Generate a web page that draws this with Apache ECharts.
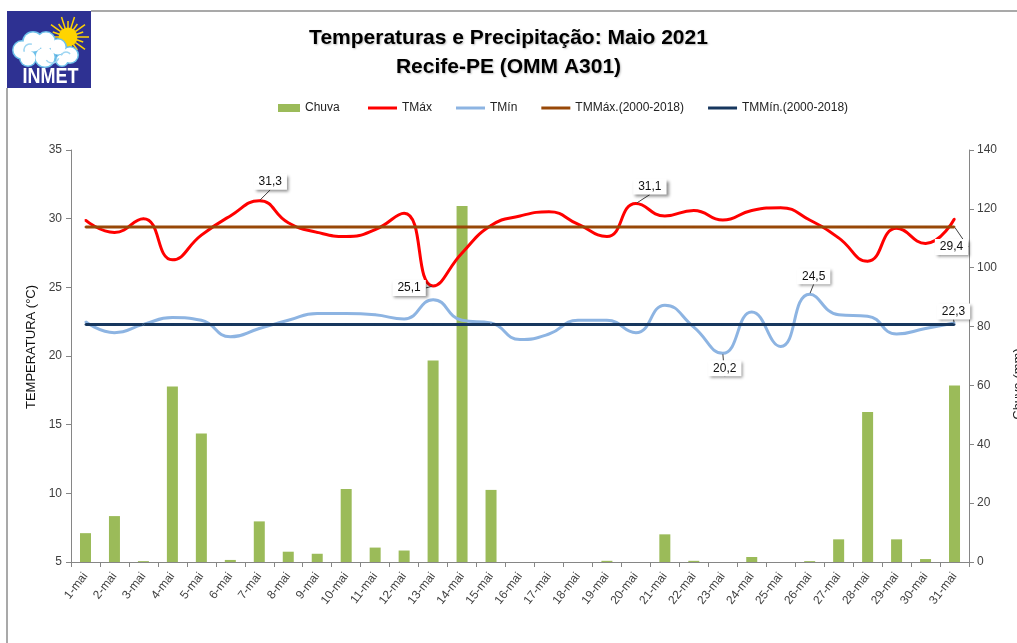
<!DOCTYPE html>
<html><head><meta charset="utf-8">
<script src="https://cdn.jsdelivr.net/npm/echarts@6/dist/echarts.min.js"></script>
<style>html,body{margin:0;padding:0;background:#fff}#c{width:1017px;height:643px}</style>
</head><body><div id="c"></div>
<script>
const days = ['1-mai','2-mai','3-mai','4-mai','5-mai','6-mai','7-mai','8-mai','9-mai','10-mai','11-mai','12-mai','13-mai','14-mai','15-mai','16-mai','17-mai','18-mai','19-mai','20-mai','21-mai','22-mai','23-mai','24-mai','25-mai','26-mai','27-mai','28-mai','29-mai','30-mai','31-mai'];
const chuva = [9.8,15.6,0.3,59.6,43.7,0.7,13.8,3.5,2.8,24.8,4.9,3.9,68.5,121.0,24.5,0,0,0,0.4,0,9.4,0.4,0,1.7,0,0.3,7.7,51.0,7.7,1.0,60.0];
const tmax = [29.9,29.0,30.0,27.0,28.8,30.2,31.3,29.7,29.0,28.7,29.2,30.4,25.1,27.5,29.5,30.2,30.5,29.6,28.7,31.1,30.2,30.6,29.9,30.6,30.8,29.9,28.6,26.9,29.3,28.2,30.0];
const tmin = [22.5,21.7,22.3,22.8,22.6,21.4,22.0,22.6,23.1,23.1,23.0,22.7,24.1,22.6,22.4,21.2,21.6,22.6,22.6,21.7,23.7,22.1,20.2,23.2,20.7,24.5,23.0,22.9,21.6,22.0,22.4];
const tmmax = [29.4,29.4,29.4,29.4,29.4,29.4,29.4,29.4,29.4,29.4,29.4,29.4,29.4,29.4,29.4,29.4,29.4,29.4,29.4,29.4,29.4,29.4,29.4,29.4,29.4,29.4,29.4,29.4,29.4,29.4,29.4];
const tmmin = [22.3,22.3,22.3,22.3,22.3,22.3,22.3,22.3,22.3,22.3,22.3,22.3,22.3,22.3,22.3,22.3,22.3,22.3,22.3,22.3,22.3,22.3,22.3,22.3,22.3,22.3,22.3,22.3,22.3,22.3,22.3];
const tempTicks = {min: 5, max: 35, interval: 5};
const rainTicks = {min: 0, max: 140, interval: 20};

const FONT = '"Liberation Sans", Arial, sans-serif';
const labelBox = {
  show: true, position: 'inside', color: '#111', fontSize: 12, fontFamily: FONT,
  backgroundColor: '#fff', padding: [2, 5],
  shadowColor: 'rgba(0,0,0,0.45)', shadowBlur: 3, shadowOffsetX: 2, shadowOffsetY: 2,
  formatter: p => String(p.value).replace('.', ',')
};
function makeData(values, offsets) {
  return values.map((v, i) => {
    if (offsets[i]) {
      return {
        value: v,
        label: Object.assign({}, labelBox, {offset: offsets[i]}),
        labelLine: {show: true, lineStyle: {color: '#404040', width: 1}}
      };
    }
    return v;
  });
}

const chart = echarts.init(document.getElementById('c'), null, {renderer: 'canvas'});

const SUN = {cx: 68, cy: 37};
const rays = [];
for (let k = 0; k < 20; k++) {
  const a = k * Math.PI / 10;
  const r2 = (k % 2 === 0) ? 21 : 16;
  rays.push({type: 'line', shape: {x1: SUN.cx + Math.cos(a) * 9, y1: SUN.cy + Math.sin(a) * 9, x2: SUN.cx + Math.cos(a) * r2, y2: SUN.cy + Math.sin(a) * r2},
    style: {stroke: '#ffd400', lineWidth: 1.5}});
}
const cloudCircles = [[22,50,10],[33,42,11],[46,41,10],[58,47,9],[70,55,9],[45,57,11],[28,58,9],[62,60,7]];
const cloudOutline = cloudCircles.map(c => ({type: 'circle', shape: {cx: c[0], cy: c[1], r: c[2]}, style: {fill: '#6ec1ea'}}));
const cloudFill = cloudCircles.map(c => ({type: 'circle', shape: {cx: c[0], cy: c[1], r: c[2] - 1.5}, style: {fill: '#ffffff'}}));
const cloudArcs = [
  {type: 'arc', shape: {cx: 30, cy: 50, r: 6, startAngle: Math.PI * 0.9, endAngle: Math.PI * 1.6}, style: {stroke: '#9fd6f2', lineWidth: 1.5, fill: null}},
  {type: 'arc', shape: {cx: 52, cy: 56, r: 7, startAngle: Math.PI * 0.1, endAngle: Math.PI * 0.8}, style: {stroke: '#9fd6f2', lineWidth: 1.5, fill: null}},
  {type: 'arc', shape: {cx: 66, cy: 57, r: 5, startAngle: Math.PI * 1.1, endAngle: Math.PI * 1.8}, style: {stroke: '#9fd6f2', lineWidth: 1.5, fill: null}}
];

const option = {
  animation: false,
  backgroundColor: '#ffffff',
  textStyle: {fontFamily: FONT},
  title: {
    text: 'Temperaturas e Precipitação: Maio 2021\nRecife-PE (OMM A301)',
    left: 'center', top: 19,
    textStyle: {fontFamily: FONT, fontSize: 21, fontWeight: 'bold', color: '#000', lineHeight: 29,
      textShadowColor: 'rgba(0,0,0,0.25)', textShadowBlur: 2, textShadowOffsetX: 1, textShadowOffsetY: 1}
  },
  legend: [
    {data: ['Chuva'], left: 273, top: 97, icon: 'rect', itemWidth: 22, itemHeight: 8,
      textStyle: {fontFamily: FONT, fontSize: 12, color: '#222'}},
    {data: ['TMáx', 'TMín', 'TMMáx.(2000-2018)', 'TMMín.(2000-2018)'], left: 363, top: 97, icon: 'rect',
      itemWidth: 29, itemHeight: 3, itemGap: 24,
      textStyle: {fontFamily: FONT, fontSize: 12, color: '#222'}}
  ],
  grid: {left: 71, right: 48, top: 150, bottom: 81, outerBoundsMode: 'none', containLabel: false},
  xAxis: {
    type: 'category', data: days, boundaryGap: true,
    axisLine: {lineStyle: {color: '#868686', width: 1}},
    axisTick: {show: true, interval: 0, length: 5, lineStyle: {color: '#868686'}},
    axisLabel: {interval: 0, rotate: 52, fontSize: 12, color: '#404040', margin: 12, fontFamily: FONT}
  },
  yAxis: [
    {type: 'value', min: tempTicks.min, max: tempTicks.max, interval: tempTicks.interval, position: 'left',
      name: 'TEMPERATURA (°C)', nameLocation: 'middle', nameGap: 33, nameRotate: 90,
      nameTextStyle: {fontSize: 13, color: '#111', fontFamily: FONT, padding: [0, 0, 0, 18]},
      splitLine: {show: false},
      axisLine: {show: true, lineStyle: {color: '#868686'}},
      axisTick: {show: true, length: 5, lineStyle: {color: '#868686'}},
      axisLabel: {fontSize: 12, color: '#404040', margin: 9, fontFamily: FONT}},
    {type: 'value', min: rainTicks.min, max: rainTicks.max, interval: rainTicks.interval, position: 'right',
      name: 'Chuva (mm)', nameLocation: 'middle', nameGap: 43, nameRotate: 90,
      nameTextStyle: {fontSize: 13, color: '#222', fontFamily: FONT, padding: [0, 56, 0, 0]},
      splitLine: {show: false},
      axisLine: {show: true, lineStyle: {color: '#868686'}},
      axisTick: {show: true, length: 5, lineStyle: {color: '#868686'}},
      axisLabel: {fontSize: 12, color: '#404040', margin: 8, fontFamily: FONT}}
  ],
  series: [
    {name: 'Chuva', type: 'bar', yAxisIndex: 1, data: chuva, barWidth: 11,
      itemStyle: {color: '#9bbb59'}},
    {name: 'TMáx', type: 'line', yAxisIndex: 0, smooth: 0.5, data: makeData(tmax, {6: [11, -19], 12: [-24, 2], 19: [14, -17]}),
      symbol: 'circle', symbolSize: 2, showSymbol: true,
      lineStyle: {color: '#ff0000', width: 3}, itemStyle: {color: '#ff0000'}},
    {name: 'TMín', type: 'line', yAxisIndex: 0, smooth: 0.5, data: makeData(tmin, {22: [2, 15], 25: [4, -18]}),
      symbol: 'circle', symbolSize: 2, showSymbol: true,
      lineStyle: {color: '#8db4e2', width: 3}, itemStyle: {color: '#8db4e2'}},
    {name: 'TMMáx.(2000-2018)', type: 'line', yAxisIndex: 0, data: makeData(tmmax, {30: [-3, 20]}),
      symbol: 'circle', symbolSize: 2, showSymbol: true,
      lineStyle: {color: '#984807', width: 3}, itemStyle: {color: '#984807'}},
    {name: 'TMMín.(2000-2018)', type: 'line', yAxisIndex: 0, data: makeData(tmmin, {30: [-1, -13]}),
      symbol: 'circle', symbolSize: 2, showSymbol: true,
      lineStyle: {color: '#17375e', width: 3}, itemStyle: {color: '#17375e'}}
  ],
  graphic: [
    {type: 'line', shape: {x1: 91, y1: 11, x2: 1017, y2: 11}, style: {stroke: '#8c8c8c', lineWidth: 1.5}},
    {type: 'line', shape: {x1: 7, y1: 88, x2: 7, y2: 643}, style: {stroke: '#8c8c8c', lineWidth: 1.5}},
    {type: 'group', children: [
      {type: 'rect', shape: {x: 7, y: 11, width: 84, height: 77}, style: {fill: '#2e3192'}},
      ...rays,
      {type: 'circle', shape: {cx: SUN.cx, cy: SUN.cy, r: 9.5}, style: {fill: '#ffd400'}},
      ...cloudOutline,
      ...cloudFill,
      ...cloudArcs,
      {type: 'text', x: 50.5, y: 77, scaleY: 1.25, style: {text: 'INMET', x: 0, y: 0, align: 'center', verticalAlign: 'middle',
        fill: '#ffffff', font: 'bold 18px "Liberation Sans", Arial, sans-serif'}}
    ]}
  ]
};
chart.setOption(option);
</script></body></html>
